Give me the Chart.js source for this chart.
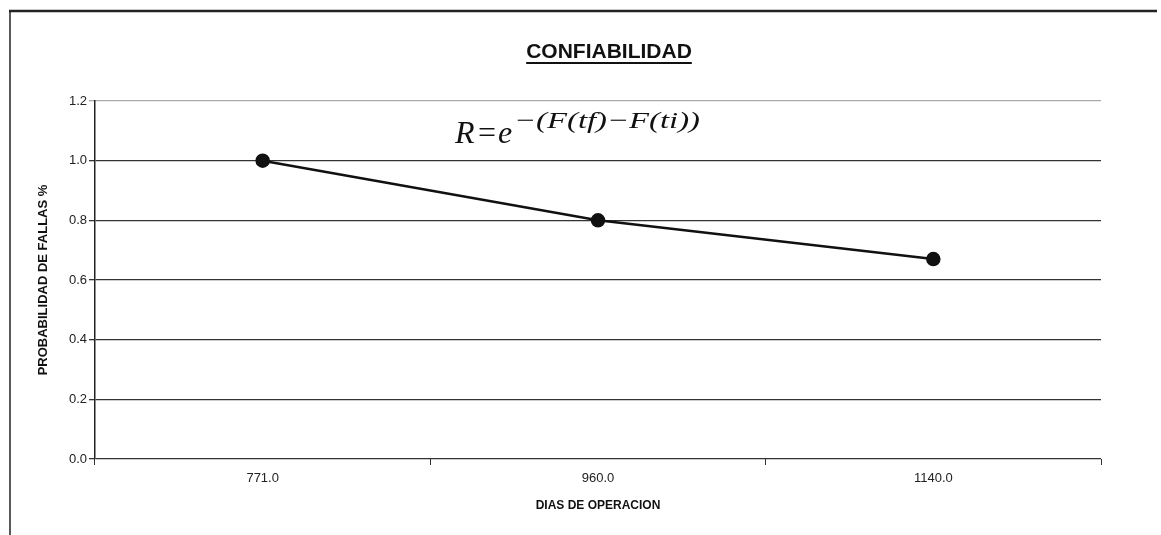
<!DOCTYPE html>
<html>
<head>
<meta charset="utf-8">
<script src="https://cdn.jsdelivr.net/npm/chart.js@4.4.1/dist/chart.umd.min.js"></script>
<style>
  html, body { margin: 0; padding: 0; background: #fff; }
  #wrap { width: 1161px; height: 535px; }
</style>
</head>
<body>
<div id="wrap"><canvas id="chart" width="1161" height="535"></canvas></div>
<script>
const dias = ["771.0", "960.0", "1140.0"];
const confiabilidad = [1.0, 0.80, 0.67];
const y_ticks = [0, 0.2, 0.4, 0.6, 0.8, 1.0, 1.2];

const serif = "'Liberation Serif', 'Times New Roman', serif";

// frame lines, underlined title and the formula text
const decor = {
    id: "decor",
    beforeDraw(chart) {
        const c = chart.ctx;
        c.save();
        c.fillStyle = "#fff";
        c.fillRect(0, 0, chart.width, chart.height);
        c.strokeStyle = "#222";
        c.lineWidth = 1.5;
        c.beginPath();
        c.moveTo(10, 11);
        c.lineTo(10, 535);
        c.stroke();
        c.lineWidth = 2.5;
        c.beginPath();
        c.moveTo(9, 11);
        c.lineTo(1157, 11);
        c.stroke();
        c.restore();
    },
    afterDraw(chart) {
        const c = chart.ctx;
        c.save();
        c.fillStyle = "#111";
        c.font = "bold 21px 'Liberation Sans', Arial, sans-serif";
        c.textAlign = "center";
        c.textBaseline = "alphabetic";
        c.fillText("CONFIABILIDAD", 609, 58);
        const w = c.measureText("CONFIABILIDAD").width;
        c.fillRect(609 - w / 2, 62, w, 2);

        c.textAlign = "left";
        c.font = "italic 32px " + serif;
        c.fillText("R", 455, 143);
        c.font = "32px " + serif;
        c.fillText("=", 478, 143);
        c.font = "italic 32px " + serif;
        c.fillText("e", 498, 143);

        // exponent stretched to its printed width
        const expo = "\u2212(F(tf)\u2212F(ti))";
        c.font = "italic 24px " + serif;
        const ew = c.measureText(expo).width;
        c.translate(514, 128);
        c.scale(186 / ew, 1);
        c.fillText(expo, 0, 0);
        c.restore();
    }
};

const ctx = document.getElementById("chart").getContext("2d");
const chart = new Chart(ctx, {
    type: "line",
    data: {
        labels: dias,
        datasets: [{
            data: confiabilidad,
            borderColor: "#111",
            backgroundColor: "#111",
            borderWidth: 2.5,
            pointRadius: 6,
            pointHoverRadius: 6,
            tension: 0
        }]
    },
    options: {
        responsive: false,
        animation: false,
        layout: { padding: { left: 10, right: 60, top: 101, bottom: 8 } },
        plugins: {
            legend: { display: false },
            tooltip: { enabled: false }
        },
        scales: {
            x: {
                offset: true,
                grid: {
                    offset: true,
                    drawOnChartArea: false,
                    tickLength: 6,
                    color: "#333"
                },
                border: { display: false },
                ticks: {
                    color: "#222",
                    padding: 6,
                    font: { family: "'Liberation Sans', Arial, sans-serif", size: 13 }
                },
                title: {
                    display: true,
                    text: "DIAS DE OPERACION",
                    color: "#111",
                    padding: { top: 0, bottom: 14 },
                    font: { family: "'Liberation Sans Narrow', 'Liberation Sans', Arial, sans-serif", size: 12, weight: "bold" }
                },
                afterFit: (scale) => { scale.height = 68; }
            },
            y: {
                min: 0,
                max: 1.2,
                afterBuildTicks: (scale) => { scale.ticks = y_ticks.map(v => ({ value: v })); },
                grid: {
                    tickLength: 6,
                    lineWidth: 1.3,
                    color: (c) => c.tick && c.tick.value === 1.2 ? "#aaa" : "#333"
                },
                border: { display: true, color: "#222", width: 1.5 },
                ticks: {
                    color: "#222",
                    padding: 2,
                    font: { family: "'Liberation Sans', Arial, sans-serif", size: 13 },
                    callback: (v) => Number(v).toFixed(1)
                },
                title: {
                    display: true,
                    text: "PROBABILIDAD DE FALLAS %",
                    color: "#111",
                    padding: { top: 26, bottom: 0 },
                    font: { family: "'Liberation Sans Narrow', 'Liberation Sans', Arial, sans-serif", size: 13, weight: "bold" }
                },
                afterFit: (scale) => { scale.width = 85; }
            }
        }
    },
    plugins: [decor]
});
</script>
</body>
</html>
